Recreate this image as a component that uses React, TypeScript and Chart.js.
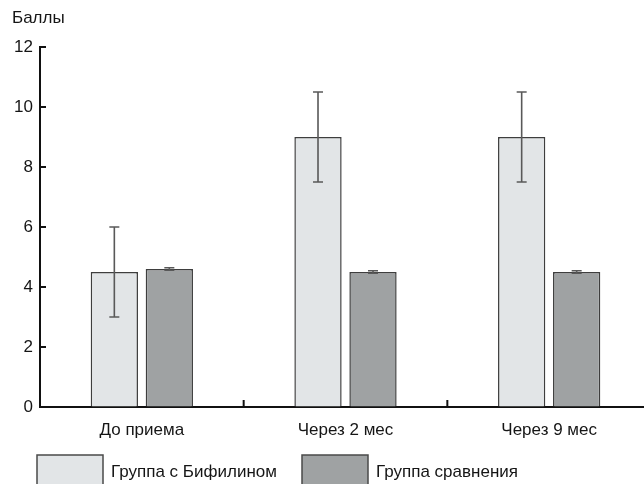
import { useEffect, useRef } from "react";
import { Chart, registerables } from "chart.js";

Chart.register(...registerables);

const categories = ["До приема", "Через 2 мес", "Через 9 мес"];
const seriesLabels = ["Группа с Бифилином", "Группа сравнения"];
const bifilinValues = [4.5, 9.0, 9.0];
const bifilinErrors = [1.5, 1.5, 1.5];
const controlValues = [4.6, 4.5, 4.5];
const controlErrors = [0.04, 0.04, 0.04];
const yTitle = "Баллы";
const yMin = 0;
const yMax = 12;
const yStep = 2;

const FONT = "'Liberation Sans', Arial, sans-serif";
const FSIZE = 17;
const TEXT = "#151515";
const LIGHT = "#e2e5e7";
const DARK = "#9fa2a3";
const EDGE = "#3e3e3e";

const extras = {
  id: "extras",
  afterDatasetsDraw(chart: any) {
    const ctx = chart.ctx;
    const y = chart.scales.y;
    chart.data.datasets.forEach((ds: any, di: number) => {
      const meta = chart.getDatasetMeta(di);
      meta.data.forEach((bar: any, i: number) => {
        const v = ds.data[i];
        const e = ds.errors[i];
        const cx = bar.x;
        const top = y.getPixelForValue(v + e);
        const bot = y.getPixelForValue(v - e);
        ctx.save();
        ctx.strokeStyle = "#595959";
        ctx.lineWidth = 1.6;
        ctx.beginPath();
        ctx.moveTo(cx, top);
        ctx.lineTo(cx, bot);
        ctx.moveTo(cx - 5, top);
        ctx.lineTo(cx + 5, top);
        ctx.moveTo(cx - 5, bot);
        ctx.lineTo(cx + 5, bot);
        ctx.stroke();
        ctx.restore();
      });
    });
  },
  afterDraw(chart: any) {
    const ctx = chart.ctx;
    const x = chart.scales.x;
    const y = chart.scales.y;
    const area = chart.chartArea;
    ctx.save();
    ctx.strokeStyle = "#111";
    ctx.lineWidth = 2;
    // inward y ticks
    for (let v = yMin; v <= yMax; v += yStep) {
      const py = y.getPixelForValue(v);
      ctx.beginPath();
      ctx.moveTo(area.left, py);
      ctx.lineTo(area.left + 6, py);
      ctx.stroke();
    }
    // inward x ticks between categories
    for (let i = 0; i < categories.length - 1; i++) {
      const px = (x.getPixelForValue(i) + x.getPixelForValue(i + 1)) / 2;
      ctx.beginPath();
      ctx.moveTo(px, area.bottom);
      ctx.lineTo(px, area.bottom - 7);
      ctx.stroke();
    }
    // axis title
    ctx.fillStyle = TEXT;
    ctx.font = `${FSIZE}px ${FONT}`;
    ctx.textBaseline = "middle";
    ctx.textAlign = "left";
    ctx.fillText(yTitle, 12, 18);
    // legend
    const items = chart.data.datasets.map((ds: any) => ({
      label: ds.label,
      fill: ds.backgroundColor,
    }));
    const boxX = [37, 302];
    items.forEach((it: any, i: number) => {
      const bx = boxX[i];
      ctx.fillStyle = it.fill;
      ctx.fillRect(bx, 455, 66, 34);
      ctx.strokeStyle = "#4a4a4a";
      ctx.lineWidth = 1.5;
      ctx.strokeRect(bx, 455, 66, 34);
      ctx.fillStyle = TEXT;
      ctx.fillText(it.label, bx + 74, 472);
    });
    ctx.restore();
  },
};

export default function App() {
  const ref = useRef<HTMLCanvasElement | null>(null);
  useEffect(() => {
    if (!ref.current) return;
    document.body.style.overflow = "hidden";
    const chart = new Chart(ref.current, {
      type: "bar",
      data: {
        labels: categories,
        datasets: [
          {
            label: seriesLabels[0],
            data: bifilinValues,
            errors: bifilinErrors,
            backgroundColor: LIGHT,
            borderColor: EDGE,
            borderWidth: 1.5,
          } as any,
          {
            label: seriesLabels[1],
            data: controlValues,
            errors: controlErrors,
            backgroundColor: DARK,
            borderColor: EDGE,
            borderWidth: 1.5,
          } as any,
        ],
      },
      options: {
        responsive: false,
        animation: false,
        devicePixelRatio: 1,
        layout: { padding: { left: 10, right: 9, top: 47, bottom: 59 } },
        datasets: { bar: { categoryPercentage: 0.54, barPercentage: 0.86 } },
        plugins: {
          legend: { display: false },
          tooltip: { enabled: false },
          title: { display: false },
        },
        scales: {
          x: {
            grid: { display: true, drawOnChartArea: false, drawTicks: false },
            border: { display: true, color: "#111", width: 2 },
            ticks: { color: TEXT, font: { family: FONT, size: FSIZE }, padding: 13 },
            afterFit: (s: any) => {
              s.height = 34;
            },
          },
          y: {
            min: yMin,
            max: yMax,
            grid: { display: true, drawOnChartArea: false, drawTicks: false },
            border: { display: true, color: "#111", width: 2 },
            ticks: { stepSize: yStep, color: TEXT, font: { family: FONT, size: FSIZE }, padding: 7 },
            afterFit: (s: any) => {
              s.width = 30;
            },
          },
        },
      },
      plugins: [extras],
    } as any);
    return () => chart.destroy();
  }, []);
  return (
    <div
      style={{
        position: "fixed",
        left: 0,
        top: 0,
        width: 644,
        height: 484,
        overflow: "hidden",
        background: "#fff",
      }}
    >
      <canvas ref={ref} width={660} height={500} style={{ width: 660, height: 500, display: "block" }} />
    </div>
  );
}
